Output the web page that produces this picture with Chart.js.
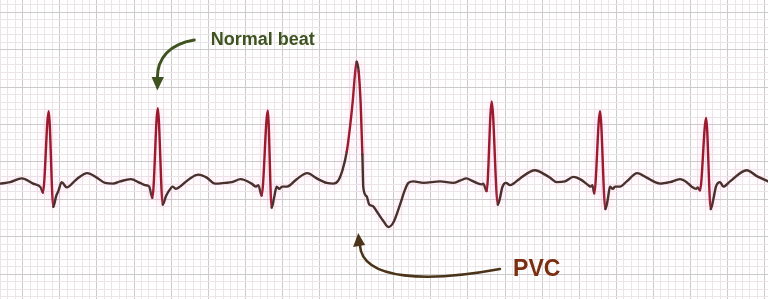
<!DOCTYPE html>
<html>
<head>
<meta charset="utf-8">
<script src="https://cdn.jsdelivr.net/npm/chart.js@4.4.1/dist/chart.umd.min.js"></script>
<style>
  html, body { margin: 0; padding: 0; background: #ffffff; }
  #wrap { position: relative; width: 768px; height: 299px; }
</style>
</head>
<body>
<div id="wrap"><canvas id="ecg" width="768" height="299"></canvas></div>
<script>
// ---- Data: one ECG strip (time in seconds, amplitude in mV) ----
const timeS = [
  -0.122, -0.068, -0.005, 0.056, 0.097, 0.109, 0.140, 0.165, 0.180, 0.192, 0.210, 0.237, 0.291, 0.348, 0.399, 0.444, 0.487,
  0.525, 0.582, 0.632, 0.659, 0.682, 0.699, 0.728, 0.755, 0.772, 0.790, 0.809, 0.826, 0.848, 0.902, 0.947, 0.992, 1.037, 1.091, 1.128,
  1.175, 1.234, 1.258, 1.270, 1.288, 1.321, 1.342, 1.355, 1.369, 1.383, 1.398, 1.425, 1.477, 1.534, 1.585, 1.639, 1.674,
  1.701, 1.725, 1.747, 1.764, 1.779, 1.791, 1.800, 1.811, 1.822, 1.831, 1.836, 1.854, 1.868, 1.887, 1.908, 1.944, 1.971, 1.998, 2.034, 2.061, 2.079, 2.106, 2.160, 2.250,
  2.321, 2.357, 2.393, 2.420, 2.447, 2.474, 2.483, 2.501, 2.528, 2.561, 2.573, 2.585, 2.605, 2.627, 2.645, 2.681, 2.762, 2.816,
  2.843, 2.879, 2.923, 2.968, 3.004, 3.049, 3.062, 3.071, 3.081, 3.112, 3.141, 3.154, 3.166, 3.181, 3.193, 3.220, 3.256, 3.313, 3.364, 3.409,
  3.436, 3.489, 3.543, 3.579, 3.606, 3.630, 3.639, 3.651, 3.684, 3.709, 3.723, 3.737, 3.759, 3.777, 3.813, 3.903, 3.957, 4.018
];
const voltageMv = [
  -0.01, 0.01, 0.06, -0.01, -0.06, -0.13, 0.96, -0.32, -0.18, -0.11, 0.01, -0.06, 0.05, 0.13, 0.07, 0.00, -0.01,
  0.02, 0.05, 0.00, -0.03, -0.05, -0.20, 1.00, -0.29, -0.18, -0.10, -0.05, -0.08, -0.05, 0.06, 0.11, 0.07, -0.01, 0.00, 0.01,
  0.05, -0.01, -0.05, -0.03, -0.17, 0.97, -0.33, -0.20, -0.05, -0.08, -0.05, -0.05, 0.05, 0.13, 0.06, 0.00, -0.01,
  0.03, 0.18, 0.42, 0.74, 1.09, 1.45, 1.62, 1.49, 1.05, 0.38, -0.06, -0.18, -0.29, -0.31, -0.38, -0.51, -0.59, -0.53, -0.29, -0.09, 0.00, 0.02, 0.00, 0.02,
  0.00, 0.03, 0.06, 0.03, 0.00, -0.02, -0.01, -0.11, 1.09, -0.29, -0.20, -0.06, 0.00, -0.03, -0.01, 0.06, 0.17, 0.11,
  0.07, 0.01, 0.02, 0.08, 0.05, -0.03, -0.05, -0.03, -0.14, 0.96, -0.35, -0.22, -0.05, -0.08, -0.05, -0.05, 0.02, 0.13, 0.07, 0.01,
  -0.01, 0.01, 0.05, 0.01, -0.05, -0.08, -0.06, -0.10, 0.87, -0.35, -0.22, -0.05, 0.01, -0.05, 0.02, 0.17, 0.09, 0.02
];
// annotation anchors (time of the annotated beats, s)
const normalBeatTime = 0.728;
const pvcTime = 1.800;
const labels = { normal: "Normal beat", pvc: "PVC" };

// ---- Paper grid (1 small box = 0.04 s x 0.1 mV) ----
const X_MIN = -0.1224, X_MAX = 4.0176;
const Y_MIN = -1.5533, Y_MAX = 2.4467;
const Y_GRID_ORIGIN = -0.22;

function gridTicks(min, max, origin, step) {
  const out = [];
  const k0 = Math.ceil((min - origin) / step - 1e-9);
  const k1 = Math.floor((max - origin) / step + 1e-9);
  for (let k = k0; k <= k1; k++) {
    out.push({ value: origin + k * step, isMajor: ((k % 5) + 5) % 5 === 0 });
  }
  return out;
}
const gridColor = (c) => (c.tick && c.tick.isMajor) ? '#cccacb' : '#ebe5e8';

const BROWN = '#48302c';
const RED = '#9c1a2e';

const glow = {
  id: 'glow',
  beforeDatasetDraw(chart) {
    const c = chart.ctx;
    c.save();
    c.shadowColor = 'rgba(255,150,210,0.45)';
    c.shadowBlur = 8;
  },
  afterDatasetDraw(chart) { chart.ctx.restore(); }
};

const annot = {
  id: 'annot',
  afterDraw(chart) {
    const c = chart.ctx, xs = chart.scales.x;
    // Normal beat arrow
    const nx = xs.getPixelForValue(normalBeatTime);
    c.save();
    c.strokeStyle = '#3e5320'; c.fillStyle = '#3e5320';
    c.lineWidth = 3; c.lineCap = 'round';
    c.beginPath();
    c.moveTo(nx + 36.5, 40);
    c.bezierCurveTo(nx + 12, 44, nx - 0.5, 58, nx - 0.4, 78);
    c.stroke();
    c.beginPath();
    c.moveTo(nx - 6.2, 77); c.lineTo(nx + 6.2, 77); c.lineTo(nx - 0.4, 90.5); c.closePath();
    c.fill();
    c.font = 'bold 18px "Liberation Sans", Arial, sans-serif';
    c.textBaseline = 'alphabetic';
    c.fillText(labels.normal, nx + 53, 45);
    // PVC arrow
    const px = xs.getPixelForValue(pvcTime);
    c.strokeStyle = '#4b3419'; c.fillStyle = '#4b3419';
    c.lineWidth = 2.6;
    c.beginPath();
    c.moveTo(px + 143.3, 269);
    c.bezierCurveTo(px + 73.3, 282, px + 5.3, 281, px + 3.3, 245);
    c.stroke();
    c.beginPath();
    c.moveTo(px - 3.5, 247); c.lineTo(px + 8.5, 245); c.lineTo(px + 1.6, 233); c.closePath();
    c.fill();
    c.fillStyle = '#7b2f10';
    c.font = 'bold 23px "Liberation Sans", Arial, sans-serif';
    c.fillText(labels.pvc, px + 156.5, 275.5);
    c.restore();
  }
};

new Chart(document.getElementById('ecg'), {
  type: 'line',
  data: {
    datasets: [{
      data: timeS.map((t, i) => ({ x: t, y: voltageMv[i] })),
      borderColor: BROWN,
      borderWidth: 2.4,
      pointRadius: 0,
      fill: false,
      cubicInterpolationMode: 'monotone',
      borderJoinStyle: 'round',
      borderCapStyle: 'round',
      segment: {
        borderColor: (s) => {
          const dx = Math.abs(s.p1.x - s.p0.x) || 0.01;
          const dy = Math.abs(s.p1.y - s.p0.y);
          const high = Math.min(s.p0.y, s.p1.y) < 150;
          return (dy / dx > 6 && high) ? RED : BROWN;
        }
      }
    }]
  },
  options: {
    responsive: false,
    animation: false,
    events: [],
    layout: { padding: 0 },
    plugins: { legend: { display: false }, tooltip: { enabled: false }, title: { display: false } },
    scales: {
      x: {
        type: 'linear', min: X_MIN, max: X_MAX,
        afterBuildTicks: (s) => { s.ticks = gridTicks(X_MIN, X_MAX, 0, 0.04); },
        ticks: { display: false },
        border: { display: false },
        grid: { drawTicks: false, color: gridColor, lineWidth: 1 }
      },
      y: {
        type: 'linear', min: Y_MIN, max: Y_MAX,
        afterBuildTicks: (s) => { s.ticks = gridTicks(Y_MIN, Y_MAX, Y_GRID_ORIGIN, 0.1); },
        ticks: { display: false },
        border: { display: false },
        grid: { drawTicks: false, color: gridColor, lineWidth: 1 }
      }
    }
  },
  plugins: [glow, annot]
});
</script>
</body>
</html>
